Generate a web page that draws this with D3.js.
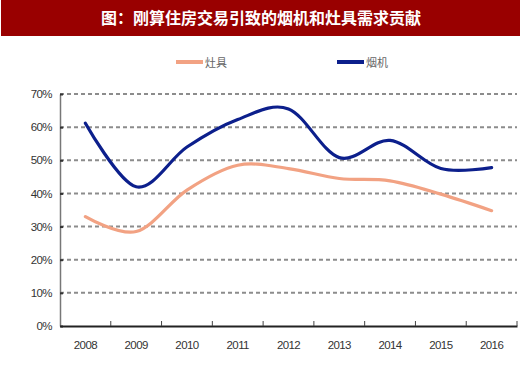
<!DOCTYPE html>
<html><head><meta charset="utf-8">
<script src="https://cdn.jsdelivr.net/npm/d3@7"></script>
<style>body{margin:0;background:#fff}svg{display:block}</style>
</head><body>
<svg id="c" width="520" height="367"></svg>
<script>
const years = ["2008","2009","2010","2011","2012","2013","2014","2015","2016"];
const stove = [33, 28.5, 41, 48.5, 47.5, 44.5, 43.8, 39.8, 34.8];   // 灶具
const hood  = [61.2, 42, 54, 62.3, 65.5, 50.8, 56, 47.5, 47.8];     // 烟机
const yTicks = [0,10,20,30,40,50,60,70];
const title = "图：刚算住房交易引致的烟机和灶具需求贡献";
const seriesNames = ["灶具","烟机"];
const colors = ["#f2a283","#0c1f8c"];

const svg = d3.select("#c");
const font = "'Liberation Sans', Arial, sans-serif";
const cjk = "'Noto Sans CJK SC', sans-serif";

svg.append("rect").attr("x",1).attr("y",0).attr("width",519).attr("height",36).attr("fill","#990000");
svg.append("text").attr("x",261).attr("y",24).attr("text-anchor","middle")
  .attr("fill","#fff").attr("font-family",cjk).attr("font-weight","bold").attr("font-size",16)
  .text(title);

const x = d3.scaleBand().domain(years).range([60,517]);
const y = d3.scaleLinear().domain([0,70]).range([326,94]);

// grid
svg.append("g").selectAll("line").data(yTicks.filter(d=>d>0)).join("line")
  .attr("x1",60).attr("x2",517).attr("y1",d=>y(d)).attr("y2",d=>y(d))
  .attr("stroke","#8c8c8c").attr("stroke-width",2).attr("stroke-dasharray","4,3");

// y axis
const ya = svg.append("g").attr("transform","translate(60,0)")
  .call(d3.axisLeft(y).tickValues(yTicks).tickFormat(d=>d+"%").tickSizeInner(-3).tickSizeOuter(0).tickPadding(8));
ya.select(".domain").attr("stroke","#777").attr("stroke-width",1.5);
ya.selectAll(".tick line").attr("stroke","#333").attr("stroke-width",2);
ya.selectAll("text").attr("font-family",font).attr("font-size",11.5).attr("fill","#333").attr("letter-spacing","-0.6");

// x axis
const xa = svg.append("g").attr("transform","translate(0,326)")
  .call(d3.axisBottom(x).tickSize(0).tickPadding(15));
xa.select(".domain").attr("stroke","#222").attr("stroke-width",2);
xa.selectAll("text").attr("font-family",font).attr("font-size",11.5).attr("fill","#333").attr("letter-spacing","-0.6");
svg.append("g").selectAll("line").data(years).join("line")
  .attr("x1",d=>x(d)+x.bandwidth()).attr("x2",d=>x(d)+x.bandwidth())
  .attr("y1",326).attr("y2",321).attr("stroke","#444").attr("stroke-width",1);

const line = d3.line().x((d,i)=>x(years[i])+x.bandwidth()/2).y(d=>y(d)).curve(d3.curveCatmullRom.alpha(0));
[stove,hood].forEach((s,k)=>{
  svg.append("path").datum(s).attr("d",line).attr("fill","none")
    .attr("stroke",colors[k]).attr("stroke-width",3.2).attr("stroke-linecap","round");
});

// legend
const lx = [176,337];
seriesNames.forEach((n,k)=>{
  svg.append("line").attr("x1",lx[k]).attr("x2",lx[k]+27).attr("y1",62).attr("y2",62)
    .attr("stroke",colors[k]).attr("stroke-width",4);
  svg.append("text").attr("x",lx[k]+29).attr("y",66.5).attr("font-family",cjk)
    .attr("font-size",11).attr("fill","#666").text(n);
});
</script>
</body></html>
